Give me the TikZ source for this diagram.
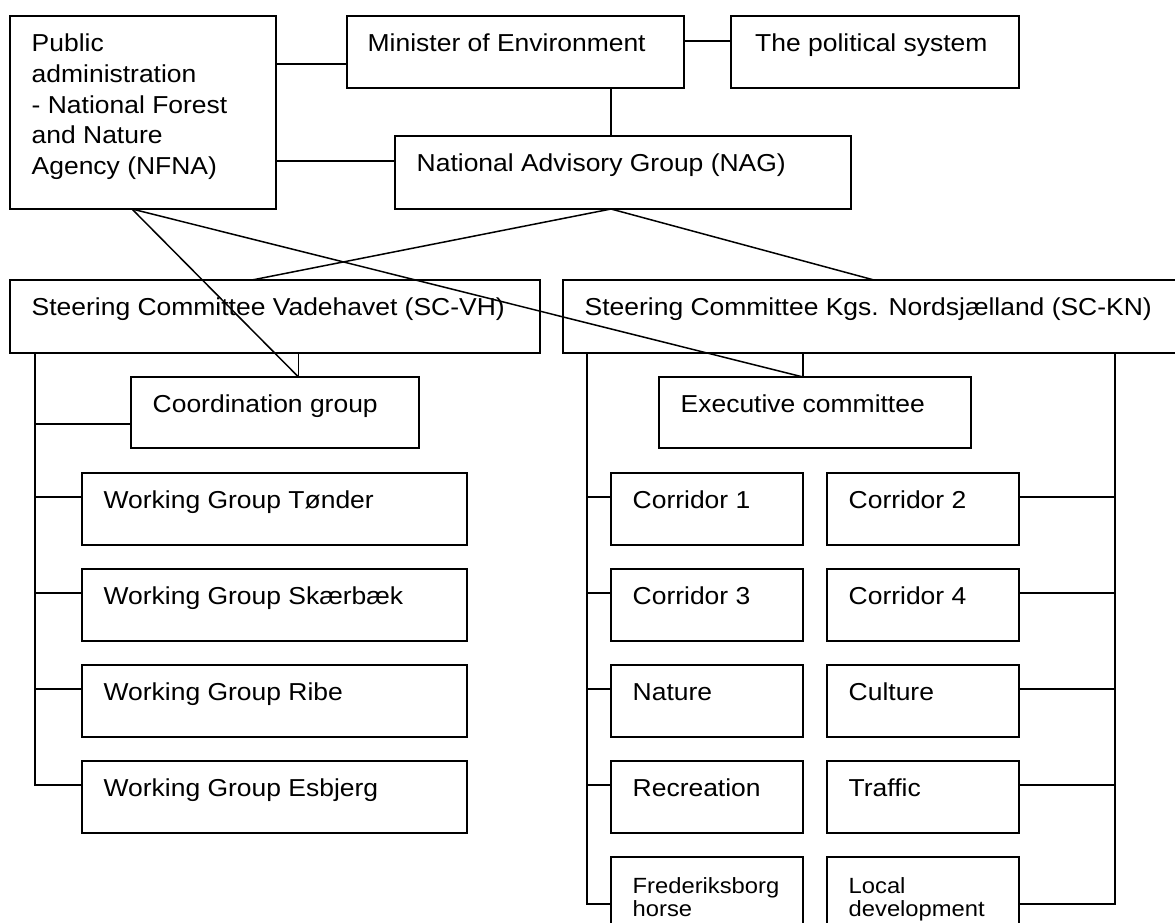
\documentclass[tikz,border=0pt]{standalone}
\usepackage{fontspec}
\setmainfont{Liberation Sans}[FakeStretch=1.08]
\usetikzlibrary{calc}

\tikzset{
  ubox/.style={draw, line width=1.5pt, rectangle, inner sep=0pt, outer sep=0pt},
  utext/.style={anchor=base west, align=left, inner sep=0pt,
                font=\fontsize{24.5}{30.8}\selectfont},
  usmall/.style={font=\fontsize{22}{23.3}\selectfont},
  link/.style={line width=1.5pt},
}

% #1 name, #2 x1, #3 y1, #4 x2, #5 y2, #6 extra text style, #7 text
% (the text node sits on the baseline of its last line)
\newcommand\unitbox[7]{%
  \node[ubox, minimum width={#4-#2}, minimum height={#5-#3}, anchor=north west] (#1) at (#2,#3) {};
  \node[utext, #6] (#1-t) at ([xshift=21.5pt,yshift=-35.5pt]#1.north west) {#7};
}

\begin{document}
\begin{tikzpicture}[x=1pt, y=-1pt]
  \useasboundingbox (0,0) rectangle (1175,922);
  \fill[white] (0,0) rectangle (1175,922);
  \clip (0,0) rectangle (1175,922);

  % top level
  \unitbox{nfna}{10}{16}{276}{209}{yshift=-123.2pt}{Public\\administration\\- National Forest\\and Nature\\Agency (NFNA)}
  \unitbox{minister}{347}{16}{684}{88}{xshift=-1pt}{Minister of Environment}
  \unitbox{political}{731}{16}{1019}{88}{xshift=2.5pt}{The political system}
  \unitbox{nag}{395}{136}{851}{209}{}{National Advisory Group (NAG)}

  % steering committees
  \unitbox{scvh}{10}{280}{540}{353}{}{Steering Committee Vadehavet (SC-VH)}
  \unitbox{sckn}{563}{280}{1195}{353}{}{Steering Committee Kgs. Nordsjælland (SC-KN)}
  \unitbox{coord}{131}{377}{419}{448}{}{Coordination group}
  \unitbox{exec}{659}{377}{971}{448}{}{Executive committee}

  % Vadehavet working groups
  \unitbox{wg1}{82}{473}{467}{545}{}{Working Group Tønder}
  \unitbox{wg2}{82}{569}{467}{641}{}{Working Group Skærbæk}
  \unitbox{wg3}{82}{665}{467}{737}{}{Working Group Ribe}
  \unitbox{wg4}{82}{761}{467}{833}{}{Working Group Esbjerg}

  % Nordsjaelland groups
  \unitbox{c1}{611}{473}{803}{545}{}{Corridor 1}
  \unitbox{c2}{827}{473}{1019}{545}{}{Corridor 2}
  \unitbox{c3}{611}{569}{803}{641}{}{Corridor 3}
  \unitbox{c4}{827}{569}{1019}{641}{}{Corridor 4}
  \unitbox{nat}{611}{665}{803}{737}{}{Nature}
  \unitbox{cul}{827}{665}{1019}{737}{}{Culture}
  \unitbox{rec}{611}{761}{803}{833}{}{Recreation}
  \unitbox{tra}{827}{761}{1019}{833}{}{Traffic}
  \unitbox{fh}{611}{857}{803}{951}{usmall, yshift=-24.3pt}{Frederiksborg\\horse}
  \unitbox{ld}{827}{857}{1019}{951}{usmall, yshift=-24.3pt}{Local\\development}

  % top level links
  \draw[link] ([yshift=-48pt]nfna.north east) -- ([yshift=-48pt]minister.north west);
  \draw[link] ([yshift=-25pt]minister.north east) -- ([yshift=-25pt]political.north west);
  \draw[link] ([yshift=-25pt]nag.north west -| nfna.east) -- ([yshift=-25pt]nag.north west);
  \draw[link] ([xshift=264pt]minister.south west) -- ([xshift=216pt]nag.north west);

  % crossing links
  \coordinate (nfnab) at ([xshift=122pt]nfna.south west);
  \coordinate (nagb) at ([xshift=216pt]nag.south west);
  \draw[link] (nfnab) -- ([xshift=167.5pt]coord.north west);
  \draw[link] (nfnab) -- ([xshift=144pt]exec.north west);
  \draw[link] (nagb) -- ([xshift=242pt]scvh.north west);
  \draw[link] (nagb) -- ([xshift=311pt]sckn.north west);

  % committee to coordination / executive
  \draw[link] ([xshift=288.5pt]scvh.south west) -- ([xshift=167.5pt]coord.north west);
  \draw[link] ([xshift=240pt]sckn.south west) -- ([xshift=144pt]exec.north west);

  % Vadehavet spine
  \coordinate (vhspine) at ([xshift=25pt]scvh.south west);
  \coordinate (coord-a) at ([yshift=-47pt]coord.north west);
  \draw[link] (coord-a) -- (vhspine |- coord-a);
  \foreach \n in {wg1,wg2,wg3,wg4} {
    \coordinate (\n-a) at ([yshift=-24pt]\n.north west);
    \draw[link] (\n-a) -- (vhspine |- \n-a);
  }
  \draw[link, line cap=rect] (vhspine) -- (vhspine |- wg4-a);

  % Nordsjaelland spines
  \coordinate (knl) at ([xshift=24pt]sckn.south west);
  \coordinate (knr) at ([xshift=552pt]sckn.south west);
  \foreach \n in {c1,c3,nat,rec} {
    \coordinate (\n-a) at ([yshift=-24pt]\n.north west);
    \draw[link] (\n-a) -- (knl |- \n-a);
  }
  \foreach \n in {c2,c4,cul,tra} {
    \coordinate (\n-a) at ([yshift=-24pt]\n.north east);
    \draw[link] (\n-a) -- (knr |- \n-a);
  }
  \coordinate (fh-a) at ([yshift=-47pt]fh.north west);
  \coordinate (ld-a) at ([yshift=-47pt]ld.north east);
  \draw[link] (fh-a) -- (knl |- fh-a);
  \draw[link] (ld-a) -- (knr |- ld-a);
  \draw[link, line cap=rect] (knl) -- (knl |- fh-a);
  \draw[link, line cap=rect] (knr) -- (knr |- ld-a);
\end{tikzpicture}
\end{document}
